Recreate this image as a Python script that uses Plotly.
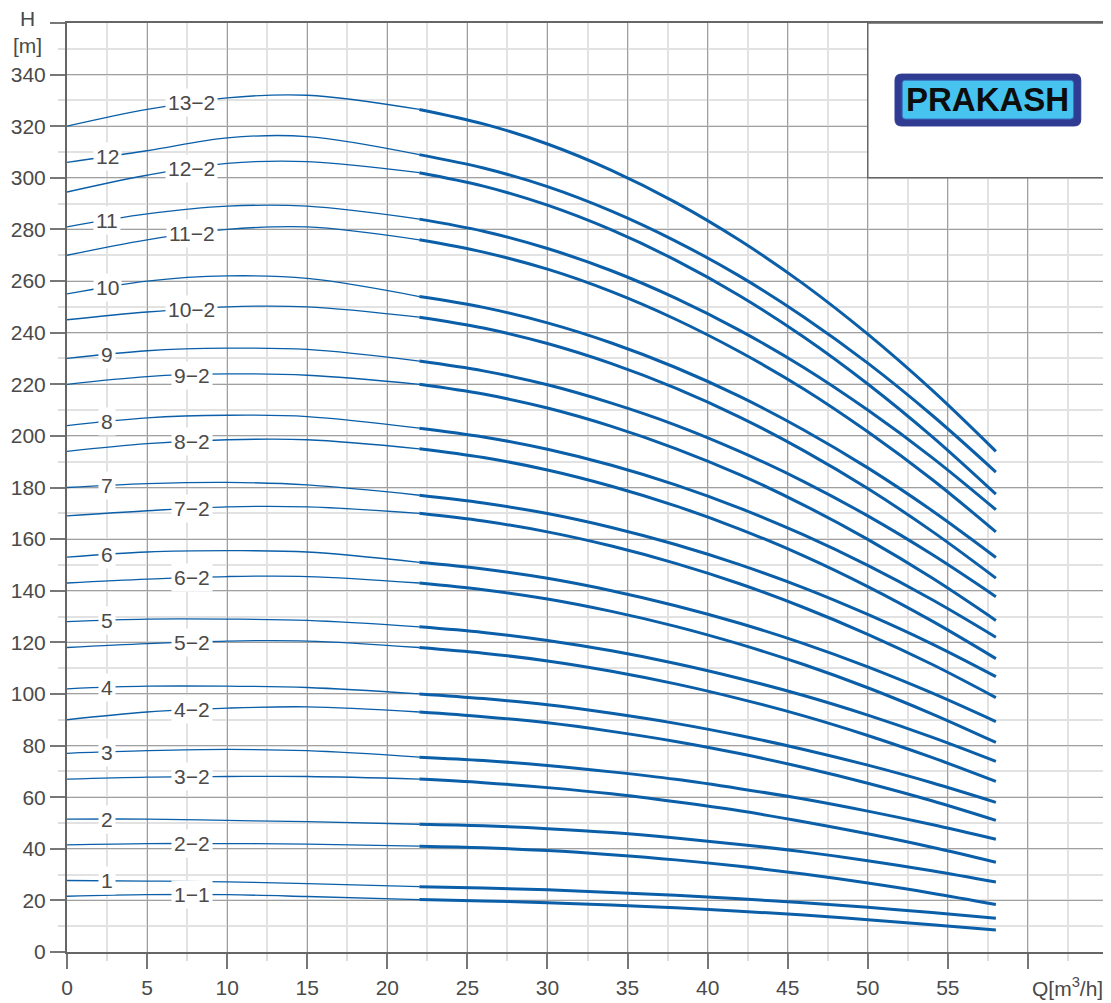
import numpy as np
import plotly.graph_objects as go

# flow points, thin part is 0..22, thick part is 22..58
Q = [0, 5, 10, 15, 22, 26, 30, 34, 38, 42, 46, 50, 54, 58]
SPLIT = 4

H_13_2 = [320, 326.5, 331, 332, 326.5, 320.9, 313.1, 302.9, 290.5, 275.8, 258.8, 239.4, 217.8, 194]
H_12 = [306, 310.5, 315.5, 316, 309, 303.8, 296.6, 287.1, 275.5, 261.9, 246.1, 228.2, 208.1, 186]
H_12_2 = [294.5, 301, 305.6, 306.3, 302, 296.8, 289.4, 279.8, 268.1, 254.3, 238.3, 220.1, 199.8, 177.4]
H_11 = [281, 286, 289, 289, 284, 279.3, 272.6, 264, 253.4, 240.9, 226.5, 210, 191.7, 171.4]
H_11_2 = [270, 276, 280, 281, 276, 271.2, 264.6, 255.9, 245.2, 232.6, 218.2, 201.6, 183.2, 162.8]
H_10 = [255, 260, 262, 261, 254, 249.8, 243.8, 236, 226.5, 215.3, 202.3, 187.6, 171.1, 152.9]
H_10_2 = [245, 248, 250, 250, 246, 241.8, 235.8, 228, 218.5, 207.3, 194.3, 179.6, 163.1, 144.9]
H_9 = [230, 233, 234, 233.5, 229, 225.2, 219.8, 212.7, 204.2, 194, 182.3, 169, 154.1, 137.7]
H_9_2 = [220, 223, 224, 223.5, 220, 216.2, 210.8, 203.7, 195.1, 185, 173.2, 159.9, 145, 128.5]
H_8 = [204, 207, 208, 207.5, 203, 199.6, 194.8, 188.6, 181, 172, 161.6, 149.8, 136.6, 122]
H_8_2 = [194, 197, 198.5, 198.5, 195, 191.6, 186.8, 180.5, 172.9, 163.9, 153.5, 141.6, 128.3, 113.7]
H_7 = [180, 181.5, 182, 181, 177, 174, 169.9, 164.5, 157.9, 150.1, 141.1, 130.8, 119.4, 106.7]
H_7_2 = [169, 171, 172.5, 172.5, 170, 167, 162.8, 157.3, 150.6, 142.7, 133.5, 123.1, 111.5, 98.6]
H_6 = [153, 155, 155.5, 155, 151, 148.4, 144.8, 140, 134.2, 127.4, 119.5, 110.5, 100.4, 89.3]
H_6_2 = [143, 144.5, 145.5, 145.5, 143, 140.4, 136.8, 132, 126.2, 119.3, 111.4, 102.4, 92.3, 81.2]
H_5 = [128, 129, 129, 128.5, 126, 123.8, 120.7, 116.7, 111.8, 106, 99.4, 91.8, 83.3, 73.9]
H_5_2 = [118, 119.5, 120.5, 120.5, 118, 115.8, 112.8, 108.8, 103.9, 98.1, 91.5, 83.9, 75.4, 66.1]
H_4 = [102, 103, 103, 102.5, 100, 98.2, 95.8, 92.5, 88.6, 83.9, 78.5, 72.4, 65.6, 58]
H_4_2 = [90, 93, 94.5, 95, 93, 91.2, 88.8, 85.5, 81.6, 76.9, 71.5, 65.4, 58.6, 51]
H_3 = [77, 78, 78.5, 78, 75.5, 74.2, 72.3, 69.8, 66.9, 63.3, 59.3, 54.6, 49.4, 43.7]
H_3_2 = [67, 67.8, 68, 68, 67, 65.6, 63.7, 61.3, 58.2, 54.7, 50.5, 45.8, 40.6, 34.8]
H_2 = [51.5, 51.5, 51, 50.5, 49.5, 48.9, 47.8, 46.3, 44.2, 41.7, 38.8, 35.4, 31.5, 27.1]
H_2_2 = [41.5, 42, 42, 41.8, 41, 40.4, 39.3, 37.7, 35.7, 33.2, 30.2, 26.7, 22.8, 18.4]
H_1 = [27.7, 27.5, 27.2, 26.5, 25.3, 24.8, 24.1, 23.1, 22, 20.6, 19.1, 17.3, 15.3, 13.1]
H_1_1 = [21.6, 22.2, 22.2, 21.5, 20.3, 19.8, 19.1, 18.2, 17.1, 15.8, 14.3, 12.5, 10.6, 8.5]

CURVES = [('13−2', H_13_2), ('12', H_12), ('12−2', H_12_2), ('11', H_11), ('11−2', H_11_2),
          ('10', H_10), ('10−2', H_10_2), ('9', H_9), ('9−2', H_9_2), ('8', H_8), ('8−2', H_8_2),
          ('7', H_7), ('7−2', H_7_2), ('6', H_6), ('6−2', H_6_2), ('5', H_5), ('5−2', H_5_2),
          ('4', H_4), ('4−2', H_4_2), ('3', H_3), ('3−2', H_3_2), ('2', H_2), ('2−2', H_2_2),
          ('1', H_1), ('1−1', H_1_1)]

X_TICKS = [0, 5, 10, 15, 20, 25, 30, 35, 40, 45, 50, 55, 60, 65]
X_LABELS = ['0', '5', '10', '15', '20', '25', '30', '35', '40', '45', '50', '55', '', '']
Y_TICKS = list(range(0, 361, 20))
Y_LABELS = [str(v) for v in Y_TICKS[:-1]] + ['']

BLUE = '#0a5fa8'
FONT = 'Liberation Sans'
TXT = '#4a4a4a'


def rounded_rect(x0, x1, y0, y1, rx, ry):
    return (f'M {x0 + rx},{y0} L {x1 - rx},{y0} Q {x1},{y0} {x1},{y0 + ry} '
            f'L {x1},{y1 - ry} Q {x1},{y1} {x1 - rx},{y1} L {x0 + rx},{y1} '
            f'Q {x0},{y1} {x0},{y1 - ry} L {x0},{y0 + ry} Q {x0},{y0} {x0 + rx},{y0} Z')


fig = go.Figure()
for name, h in CURVES:
    fig.add_trace(go.Scatter(x=Q[:SPLIT + 1], y=h[:SPLIT + 1], mode='lines',
                             line=dict(color=BLUE, width=1.3, shape='spline'),
                             showlegend=False, hoverinfo='skip'))
    fig.add_trace(go.Scatter(x=Q[SPLIT:], y=h[SPLIT:], mode='lines',
                             line=dict(color=BLUE, width=3, shape='spline'),
                             showlegend=False, hoverinfo='skip'))
    lx = 7.8 if ('−' in name) else 2.5
    fig.add_annotation(x=lx, y=float(np.interp(lx, Q, h)), text=name, showarrow=False,
                       xanchor='center', yanchor='middle', bgcolor='white', borderpad=2,
                       font=dict(family=FONT, size=21, color=TXT))

# logo box
fig.add_shape(type='rect', x0=50, x1=65, y0=300, y1=360, layer='above',
              fillcolor='white', line=dict(color='#666666', width=1.5))
fig.add_shape(type='path', path=rounded_rect(51.7, 63.3, 320.1, 340.2, 0.4, 2.4), layer='above',
              fillcolor='#2f3c92', line=dict(color='#2f3c92', width=1))
fig.add_shape(type='path', path=rounded_rect(52.15, 62.85, 322.8, 337.8, 0.2, 1.2), layer='above',
              fillcolor='#46c4ef', line=dict(color='#3b6fc0', width=1))
fig.add_annotation(x=57.5, y=330.2, text='<b>PRAKASH</b>', showarrow=False,
                   font=dict(family=FONT, size=33, color='#0d0d0d'))

fig.add_annotation(x=62.5, y=0, yshift=-35, text='Q[m<sup>3</sup>/h]', showarrow=False,
                   font=dict(family=FONT, size=21, color=TXT))
fig.add_annotation(xref='paper', x=-0.0375, y=360, yshift=-9, xanchor='center',
                   text='H<br>[m]', showarrow=False,
                   font=dict(family=FONT, size=21, color=TXT), align='center')

fig.update_xaxes(range=[0, 65], tickvals=X_TICKS, ticktext=X_LABELS, automargin=False,
                 showgrid=True, gridcolor='#a0a0a0', gridwidth=1.3,
                 minor=dict(dtick=2.5, showgrid=True, gridcolor='#e2e2e2', gridwidth=1.5,
                            ticks='outside', ticklen=7, tickwidth=2, tickcolor='#dddddd'),
                 showline=True, linecolor='#666666', linewidth=2, mirror=True,
                 ticks='outside', ticklen=15, tickwidth=2, tickcolor='#777777',
                 zeroline=False, ticklabelstandoff=1,
                 tickfont=dict(family=FONT, size=21, color=TXT))
fig.update_yaxes(range=[0, 360], tickvals=Y_TICKS, ticktext=Y_LABELS, automargin=False,
                 showgrid=True, gridcolor='#a0a0a0', gridwidth=1.3,
                 minor=dict(dtick=10, showgrid=True, gridcolor='#e2e2e2', gridwidth=1.5,
                            ticks='outside', ticklen=7, tickwidth=2, tickcolor='#dddddd'),
                 showline=True, linecolor='#666666', linewidth=2, mirror=True,
                 ticks='outside', ticklen=15, tickwidth=2, tickcolor='#777777',
                 zeroline=False, ticklabelstandoff=0,
                 tickfont=dict(family=FONT, size=21, color=TXT))
# the page body adds 8px around the plot, so the figure is 8px smaller than the window
fig.update_layout(width=1103, height=995, margin=dict(l=59, r=3, t=15, b=51),
                  plot_bgcolor='white', paper_bgcolor='white', showlegend=False)

fig.write_html('out.html')
